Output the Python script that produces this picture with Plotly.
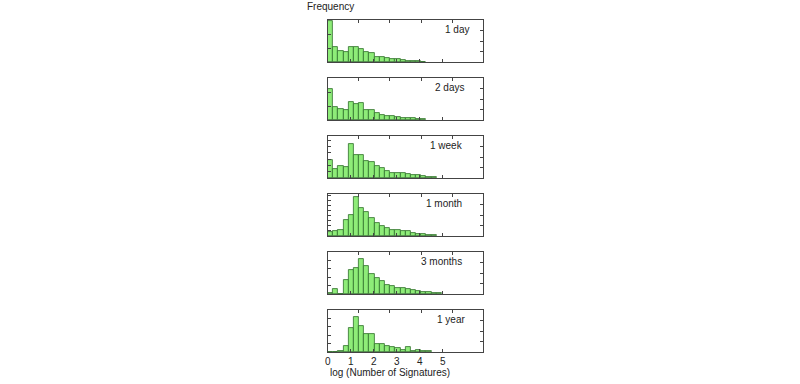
import plotly.graph_objects as go

# ---- data (relative frequency per bin of log10(number of signatures)) ----
bin_width = 0.225
periods = ["1 day", "2 days", "1 week", "1 month", "3 months", "1 year"]
freq_1day = [0.97, 0.35, 0.27, 0.23, 0.35, 0.35, 0.31, 0.23, 0.21, 0.13, 0.13, 0.10,
             0.065, 0.065, 0.05, 0.03, 0.03, 0.016, 0.008]
freq_2days = [0.75, 0.30, 0.26, 0.23, 0.42, 0.38, 0.40, 0.24, 0.25, 0.16, 0.13, 0.10,
              0.095, 0.08, 0.055, 0.055, 0.04, 0.025, 0.015]
freq_1week = [0.42, 0.22, 0.28, 0.26, 0.80, 0.54, 0.54, 0.40, 0.37, 0.28, 0.24, 0.17,
              0.12, 0.12, 0.12, 0.095, 0.063, 0.063, 0.048, 0.03, 0.024]
freq_1month = [0.10, 0.11, 0.14, 0.38, 0.50, 0.93, 0.66, 0.58, 0.42, 0.30, 0.23, 0.20,
               0.15, 0.15, 0.11, 0.11, 0.07, 0.056, 0.04, 0.024, 0.016]
freq_3months = [0.02, 0.11, 0.0, 0.34, 0.57, 0.63, 0.83, 0.66, 0.47, 0.38, 0.30, 0.22,
                0.20, 0.15, 0.14, 0.11, 0.09, 0.07, 0.056, 0.04, 0.03, 0.016]
freq_1year = [0.0, 0.0, 0.02, 0.15, 0.57, 0.84, 0.63, 0.43, 0.43, 0.20, 0.18, 0.15,
              0.13, 0.10, 0.04, 0.11, 0.02, 0.04, 0.02, 0.016]
series = [freq_1day, freq_2days, freq_1week, freq_1month, freq_3months, freq_1year]

x_tick_vals = [0, 1, 2, 3, 4, 5]
x_tick_text = ["0", "1", "2", "3", "4", "5"]
x_title = "log (Number of Signatures)"
y_title = "Frequency"

# ---- styling / layout constants ----
W, H = 800, 384
FONT = "Liberation Sans, Arial, sans-serif"
AX_COL = "#444444"
TXT_COL = "#222222"
FILL = "#8eec78"
EDGE = "#2f6e2a"
X_LEFT, X_RIGHT = 326, 482
PANEL_TOP0, PANEL_H, PANEL_STEP = 20, 42, 58
X_MAX = 6.75
left_dticks = [0.33, 0.33, 0.15, 0.12, 0.2, 0.2]
label_right_px = [470, 465, 464, 463, 463, 466]


def fx(px):
    return px / W


def fy(py):
    return 1 - py / H


fig = go.Figure()
layout = dict(
    width=W, height=H, margin=dict(l=0, r=0, t=0, b=0),
    paper_bgcolor="white", plot_bgcolor="white", showlegend=False,
    bargap=0, font=dict(family=FONT, size=10, color=TXT_COL),
)

annotations = []
n = len(series)
for i, (vals, label) in enumerate(zip(series, periods)):
    k = i + 1
    kt = n + k  # overlay axis index (top x / right y)
    top = PANEL_TOP0 + i * PANEL_STEP
    bot = top + PANEL_H
    xs = [(j + 0.5) * bin_width for j in range(len(vals))]
    fig.add_trace(go.Bar(
        x=xs, y=vals, width=bin_width,
        marker=dict(color=FILL, line=dict(color=EDGE, width=0.8)),
        xaxis=f"x{k}", yaxis=f"y{k}", hoverinfo="skip",
    ))
    # dummy traces so the overlay (top / right) axes are drawn
    fig.add_trace(go.Scatter(x=[None], y=[None], xaxis=f"x{kt}", yaxis=f"y{k}",
                             hoverinfo="skip", showlegend=False))
    fig.add_trace(go.Scatter(x=[None], y=[None], xaxis=f"x{k}", yaxis=f"y{kt}",
                             hoverinfo="skip", showlegend=False))
    last = (i == n - 1)
    dom_x = [fx(X_LEFT), fx(X_RIGHT)]
    dom_y = [fy(bot), fy(top)]
    layout[f"xaxis{k}"] = dict(
        domain=dom_x, anchor=f"y{k}", range=[0, X_MAX], fixedrange=True,
        tickvals=x_tick_vals, ticktext=x_tick_text, showticklabels=last,
        ticks="inside", ticklen=3, tickcolor=AX_COL, showgrid=False, zeroline=False,
        showline=True, linecolor=AX_COL, linewidth=1,
        tickfont=dict(size=10, color=TXT_COL),
    )
    layout[f"yaxis{k}"] = dict(
        domain=dom_y, anchor=f"x{k}", range=[0, 1], fixedrange=True,
        dtick=left_dticks[i], tick0=0, showticklabels=False, ticks="inside", ticklen=3,
        tickcolor=AX_COL, showgrid=False, zeroline=False,
        showline=True, linecolor=AX_COL, linewidth=1,
    )
    layout[f"xaxis{kt}"] = dict(
        overlaying=f"x{k}", side="top", anchor=f"y{k}", range=[0, 5], fixedrange=True,
        tickvals=[1, 2, 3, 4], showticklabels=False, ticks="inside", ticklen=3,
        tickcolor=AX_COL, showgrid=False, zeroline=False,
        showline=True, linecolor=AX_COL, linewidth=1,
    )
    layout[f"yaxis{kt}"] = dict(
        overlaying=f"y{k}", side="right", anchor=f"x{k}", range=[0, 1], fixedrange=True,
        tickvals=[0.25, 0.5, 0.75], showticklabels=False, ticks="inside", ticklen=3,
        tickcolor=AX_COL, showgrid=False, zeroline=False,
        showline=True, linecolor=AX_COL, linewidth=1,
    )
    annotations.append(dict(
        text=label, xref="paper", yref="paper", x=fx(label_right_px[i]), y=fy(top + 9),
        xanchor="right", yanchor="middle", showarrow=False,
        font=dict(size=10, color=TXT_COL),
    ))

annotations.append(dict(text=y_title, xref="paper", yref="paper", x=fx(303), y=fy(6),
                        xanchor="left", yanchor="middle", showarrow=False,
                        font=dict(size=10, color=TXT_COL)))
annotations.append(dict(text=x_title, xref="paper", yref="paper", x=fx(388), y=fy(372),
                        xanchor="center", yanchor="middle", showarrow=False,
                        font=dict(size=10, color=TXT_COL)))
layout["annotations"] = annotations
fig.update_layout(**layout)
fig.write_html("out.html", config={"displayModeBar": False},
               post_script="document.body.style.margin='0';document.body.style.overflow='hidden';")
